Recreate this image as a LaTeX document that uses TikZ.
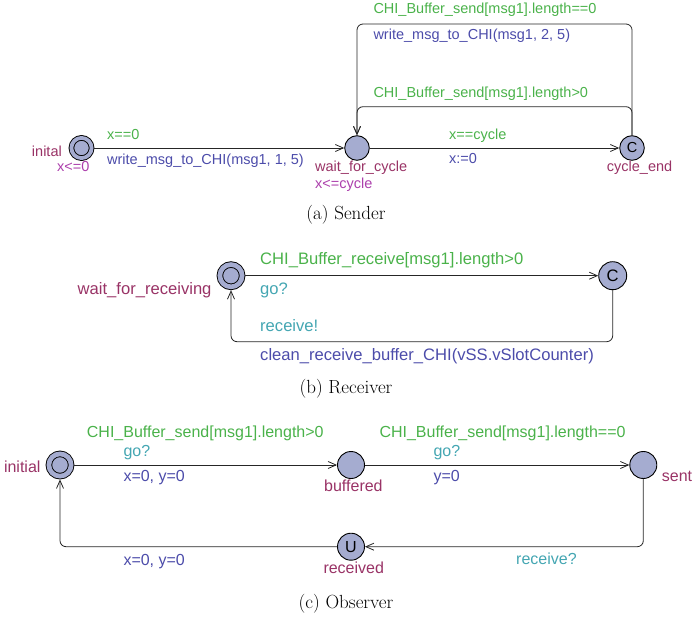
\documentclass[tikz,border=0pt]{standalone}
\usepackage{fontspec}
\newfontfamily\uppfont{Liberation Sans}
\usetikzlibrary{arrows.meta,positioning}

\definecolor{locfill}{RGB}{165,172,208}
\definecolor{namecol}{RGB}{153,51,102}
\definecolor{invcol}{RGB}{172,64,172}
\definecolor{guardcol}{RGB}{74,178,74}
\definecolor{synccol}{RGB}{68,166,178}
\definecolor{updcol}{RGB}{76,76,170}

\tikzset{
  loc/.style={circle, draw=black, fill=locfill, line width=0.9pt, inner sep=0pt},
  initloc/.style={loc, double=locfill, double distance=#1},
  trans/.style={draw=black!85, line width=0.8pt, rounded corners=6pt,
    -{Straight Barb[length=8pt,width=7pt]}},
  namelbl/.style={text=namecol, inner sep=0pt, anchor=base west},
  invlbl/.style={text=invcol, inner sep=0pt, anchor=base west},
  guardlbl/.style={text=guardcol, inner sep=0pt, anchor=base west},
  synclbl/.style={text=synccol, inner sep=0pt, anchor=base west},
  updlbl/.style={text=updcol, inner sep=0pt, anchor=base west},
  subcap/.style={font=\fontsize{19}{23}\selectfont, inner sep=0pt}
}

\begin{document}
\begin{tikzpicture}[x=1pt, y=1pt]
  \useasboundingbox (0,0) rectangle (692,619);

  % (a) Sender
  \begin{scope}[font=\uppfont\fontsize{14.5}{17}\selectfont]
    % locations
    \node[initloc=3.8pt, minimum size=20.2pt, outer sep=2.8pt] (inital) at (81.5,471) {};
    \node[loc, minimum size=24.6pt] (waitcycle) at (357,471) {};
    \node[loc, minimum size=24.6pt] (cycleend) at (632,471) {C};
    % names and invariants
    \node[namelbl, anchor=base east] (inital-n) at (62,462.3) {inital};
    \node[invlbl] (inital-i) at (57,447) {x<=0};
    \node[namelbl] (waitcycle-n) at (315,447.3) {wait\_for\_cycle};
    \node[invlbl] (waitcycle-i) at (315,430.7) {x<=cycle};
    \node[namelbl] (cycleend-n) at (606.7,447.3) {cycle\_end};
    % transitions
    \draw[trans] (inital) -- (waitcycle);
    \draw[trans] (waitcycle) -- (cycleend);
    \draw[trans] (cycleend) -- ++(0,124) -| (waitcycle);
    \draw[trans] (cycleend) -- ++(0,41.3) -| (waitcycle);
    % guards and updates
    \node[guardlbl] (g1) at (107,479.7) {x==0};
    \node[updlbl] (u1) at (107,454.7) {write\_msg\_to\_CHI(msg1, 1, 5)};
    \node[guardlbl] (g2) at (449,479.7) {x==cycle};
    \node[updlbl] (u2) at (449,455) {x:=0};
    \node[guardlbl] (g3) at (373.3,605) {CHI\_Buffer\_send[msg1].length==0};
    \node[updlbl] (u3) at (373.3,579.7) {write\_msg\_to\_CHI(msg1, 2, 5)};
    \node[guardlbl] (g4) at (373.3,521.7) {CHI\_Buffer\_send[msg1].length>0};
  \end{scope}
  \node[subcap] (capa) at (346,404) {(a) Sender};

  % (b) Receiver
  \begin{scope}[font=\uppfont\fontsize{16.6}{19}\selectfont]
    \node[initloc=4.7pt, minimum size=22.3pt, outer sep=3.3pt] (waitrecv) at (231,343.3) {};
    \node[loc, minimum size=28pt] (recvc) at (612.7,343.3) {C};
    \node[namelbl, anchor=base east] (waitrecv-n) at (211.7,325) {wait\_for\_receiving};
    % transitions
    \draw[trans] (waitrecv) -- (recvc);
    \draw[trans] (recvc) -- ++(0,-66) -| (waitrecv);
    % labels
    \node[guardlbl] (g5) at (260,354) {CHI\_Buffer\_receive[msg1].length>0};
    \node[synclbl] (s1) at (260,325) {go?};
    \node[synclbl] (s2) at (260,287.3) {receive!};
    \node[updlbl] (u5) at (260,259) {clean\_receive\_buffer\_CHI(vSS.vSlotCounter)};
  \end{scope}
  \node[subcap] (capb) at (346,230) {(b) Receiver};

  % (c) Observer
  \begin{scope}[font=\uppfont\fontsize{16}{19}\selectfont]
    \node[initloc=4.7pt, minimum size=22.3pt, outer sep=3.3pt] (initial) at (60,154) {};
    \node[loc, minimum size=27pt] (buffered) at (351,154) {};
    \node[loc, minimum size=27pt] (sent) at (643.3,154) {};
    \node[loc, minimum size=27pt] (received) at (351,72.3) {U};
    \node[namelbl, anchor=base east] (initial-n) at (40.7,146.3) {initial};
    \node[namelbl] (buffered-n) at (324,127.3) {buffered};
    \node[namelbl] (sent-n) at (661.7,137.3) {sent};
    \node[namelbl] (received-n) at (323.3,45.7) {received};
    % transitions
    \draw[trans] (initial) -- (buffered);
    \draw[trans] (buffered) -- (sent);
    \draw[trans] (sent) |- (received);
    \draw[trans] (received) -| (initial);
    % labels
    \node[guardlbl] (g6) at (86.7,181.7) {CHI\_Buffer\_send[msg1].length>0};
    \node[synclbl] (s3) at (123.3,162.3) {go?};
    \node[updlbl] (u6) at (123.3,137.3) {x=0, y=0};
    \node[guardlbl] (g7) at (379.3,181.7) {CHI\_Buffer\_send[msg1].length==0};
    \node[synclbl] (s4) at (433.3,162.3) {go?};
    \node[updlbl] (u7) at (433.3,137.3) {y=0};
    \node[synclbl] (s5) at (516,55) {receive?};
    \node[updlbl] (u8) at (123.3,54) {x=0, y=0};
  \end{scope}
  \node[subcap] (capc) at (346,15) {(c) Observer};
\end{tikzpicture}
\end{document}
